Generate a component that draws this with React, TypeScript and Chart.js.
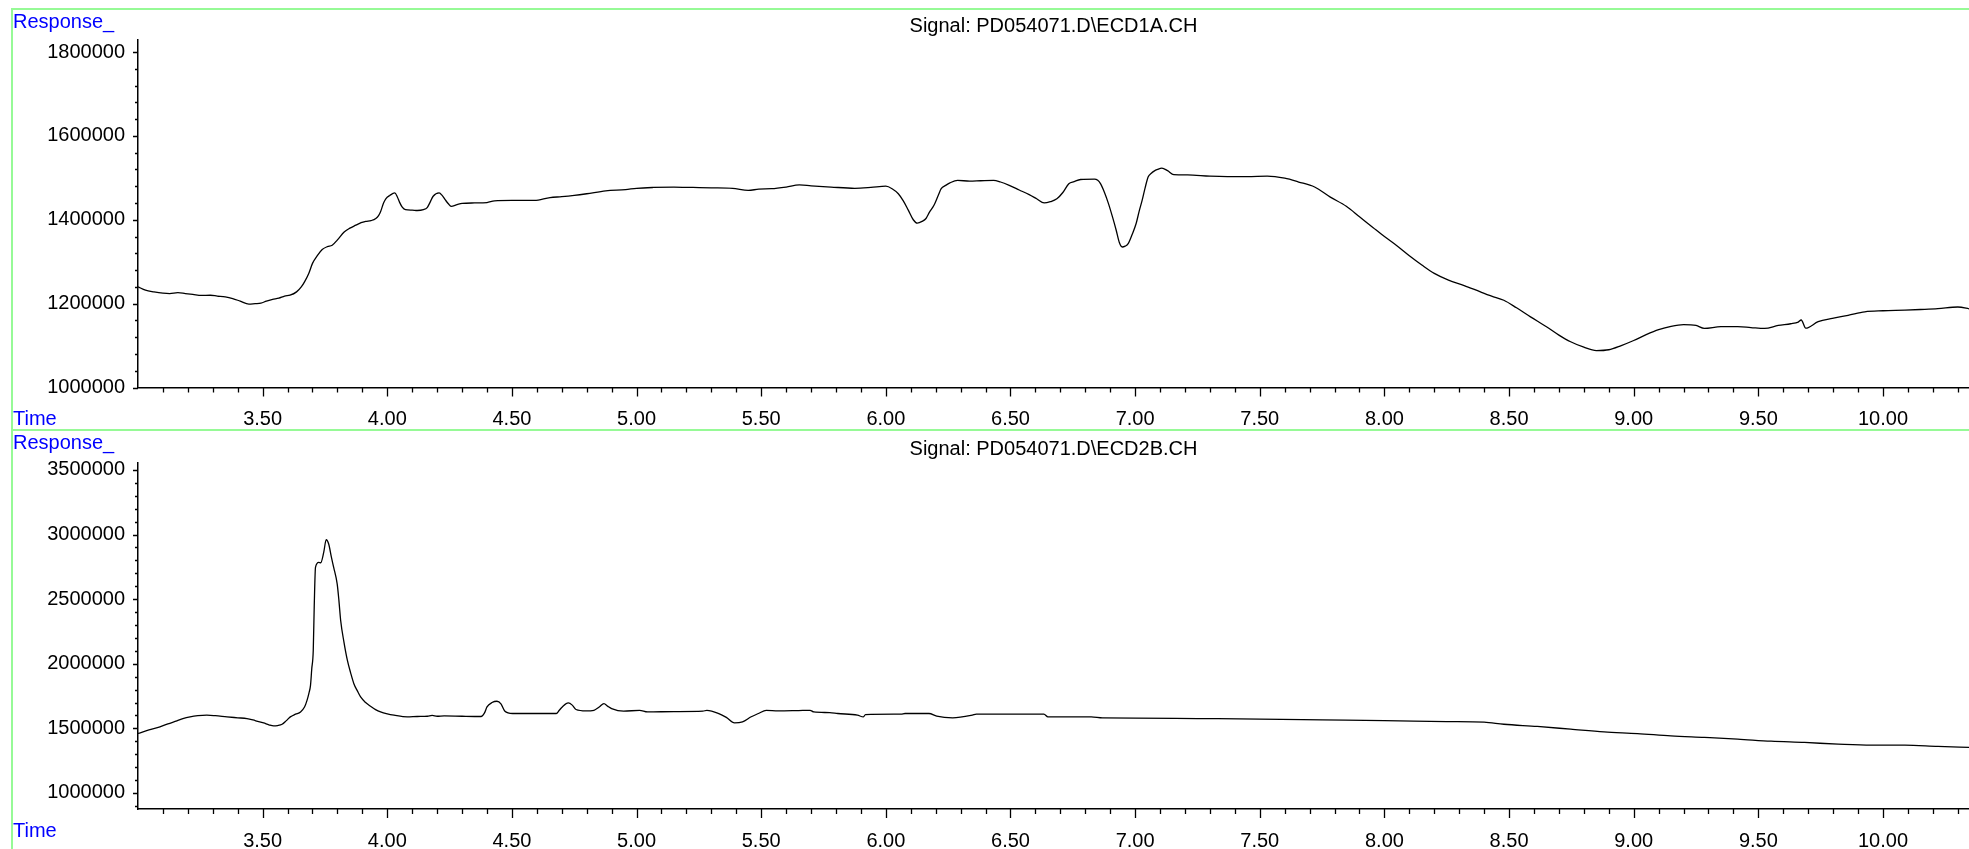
import React, { useEffect, useRef } from "react";
import { Chart, registerables } from "chart.js";

Chart.register(...registerables);

const FONT = "'Liberation Sans', Arial, Helvetica, sans-serif";
Chart.defaults.font.family = FONT;

// ---------- DATA ----------
const topTitle = "Signal: PD054071.D\\ECD1A.CH";
const bottomTitle = "Signal: PD054071.D\\ECD2B.CH";

const topTimes = [
  3.0, 3.03, 3.064, 3.1, 3.127, 3.16, 3.19, 3.22, 3.254, 3.29, 3.318, 3.35, 3.38, 3.41, 3.445, 3.47, 3.493,
  3.515, 3.54, 3.565, 3.588, 3.61, 3.636, 3.655, 3.668, 3.685, 3.7, 3.72, 3.739, 3.76, 3.779, 3.8, 3.827,
  3.85, 3.874, 3.895, 3.914, 3.935, 3.954, 3.965, 3.973, 3.985, 3.994, 4.01, 4.03, 4.04, 4.049, 4.06, 4.073,
  4.1, 4.12, 4.145, 4.16, 4.172, 4.184, 4.208, 4.22, 4.232, 4.245, 4.256, 4.28, 4.3, 4.35, 4.4, 4.43, 4.5,
  4.59, 4.653, 4.7, 4.75, 4.8, 4.876, 4.956, 5.0, 5.067, 5.15, 5.226, 5.3, 5.385, 5.448, 5.49, 5.541, 5.6,
  5.653, 5.7, 5.78, 5.875, 5.94, 6.0, 6.025, 6.05, 6.07, 6.09, 6.11, 6.126, 6.145, 6.161, 6.175, 6.193,
  6.21, 6.222, 6.24, 6.257, 6.288, 6.336, 6.38, 6.432, 6.46, 6.495, 6.535, 6.575, 6.605, 6.635, 6.66,
  6.686, 6.71, 6.734, 6.755, 6.781, 6.837, 6.85, 6.861, 6.877, 6.893, 6.91, 6.924, 6.937, 6.948, 6.96,
  6.972, 6.988, 7.004, 7.016, 7.028, 7.04, 7.052, 7.065, 7.076, 7.09, 7.107, 7.13, 7.155, 7.21, 7.3, 7.37,
  7.45, 7.53, 7.6, 7.656, 7.72, 7.783, 7.847, 7.9, 7.955, 8.0, 8.05, 8.1, 8.15, 8.2, 8.257, 8.32, 8.385,
  8.43, 8.479, 8.53, 8.586, 8.65, 8.7, 8.747, 8.8, 8.85, 8.9, 8.95, 9.0, 9.05, 9.1, 9.15, 9.2, 9.25, 9.283,
  9.35, 9.417, 9.47, 9.525, 9.58, 9.63, 9.66, 9.672, 9.69, 9.74, 9.797, 9.86, 9.927, 10.0, 10.088, 10.15,
  10.22, 10.3, 10.35,
];
const topValues = [
  1240000, 1232000, 1228000, 1225000, 1224000, 1226000, 1224000, 1222000, 1219500, 1220000, 1218000,
  1216000, 1212000, 1206000, 1199000, 1200000, 1201000, 1206000, 1210000, 1213000, 1218000, 1220000,
  1228000, 1240000, 1252000, 1272000, 1296000, 1315000, 1329000, 1336000, 1339000, 1352000, 1371000,
  1380000, 1387000, 1393000, 1396000, 1398000, 1403000, 1410000, 1419000, 1440000, 1450000, 1458000,
  1464000, 1455000, 1442000, 1430000, 1424000, 1423000, 1422000, 1424000, 1429000, 1442000, 1456000,
  1464000, 1458000, 1448000, 1438000, 1432000, 1436000, 1439000, 1440000, 1441000, 1445000, 1446000,
  1446000, 1453000, 1455000, 1458000, 1462000, 1469000, 1472000, 1475000, 1477000, 1478000, 1477000,
  1476000, 1475000, 1470000, 1473000, 1474000, 1478000, 1483000, 1481000, 1478000, 1475000, 1477000,
  1480000, 1474000, 1462000, 1445000, 1423000, 1400000, 1392000, 1396000, 1403000, 1418000, 1434500,
  1458000, 1474000, 1482000, 1488000, 1494000, 1492000, 1493000, 1494000, 1490000, 1482000, 1471000,
  1460000, 1450000, 1440000, 1443000, 1450000, 1465000, 1486000, 1491000, 1496000, 1497000, 1494000,
  1486000, 1465000, 1438500, 1405000, 1375000, 1345000, 1335000, 1337000, 1343000, 1365000, 1391000,
  1420000, 1446000, 1476000, 1502000, 1511000, 1516000, 1520000, 1523000, 1517000, 1507500, 1507000,
  1504000, 1503000, 1503000, 1504000, 1499000, 1490000, 1478000, 1454000, 1432000, 1407000, 1381000,
  1360000, 1338000, 1314000, 1292000, 1272000, 1256000, 1243000, 1228000, 1218000, 1208000, 1190000,
  1168500, 1145000, 1125000, 1109000, 1096000, 1088000, 1090000, 1100000, 1112000, 1126000, 1138000,
  1146000, 1150000, 1148000, 1141000, 1145000, 1145000, 1143000, 1141000, 1148000, 1152000, 1156000,
  1161000, 1141500, 1157000, 1165000, 1172000, 1180500, 1183000, 1184500, 1186000, 1188000, 1192000,
  1187000,
];

const bottomTimes = [
  3.0, 3.044, 3.088, 3.12, 3.156, 3.18, 3.209, 3.24, 3.276, 3.31, 3.357, 3.4, 3.437, 3.47, 3.504, 3.525,
  3.544, 3.56, 3.578, 3.595, 3.611, 3.632, 3.652, 3.668, 3.678, 3.686, 3.692, 3.697, 3.703, 3.707, 3.712,
  3.725, 3.733, 3.745, 3.755, 3.765, 3.776, 3.785, 3.799, 3.806, 3.813, 3.826, 3.84, 3.853, 3.866, 3.88,
  3.893, 3.913, 3.933, 3.953, 3.973, 4.0, 4.027, 4.08, 4.12, 4.161, 4.18, 4.2, 4.228, 4.3, 4.376, 4.39,
  4.4, 4.42, 4.44, 4.456, 4.471, 4.503, 4.6, 4.678, 4.69, 4.702, 4.726, 4.742, 4.757, 4.797, 4.829, 4.85,
  4.869, 4.885, 4.9, 4.948, 5.012, 5.044, 5.15, 5.266, 5.282, 5.33, 5.36, 5.393, 5.425, 5.46, 5.489, 5.52,
  5.568, 5.65, 5.696, 5.711, 5.775, 5.807, 5.886, 5.91, 5.918, 6.061, 6.077, 6.173, 6.204, 6.268, 6.347,
  6.363, 6.5, 6.634, 6.65, 6.824, 6.869, 7.0, 7.25, 7.5, 7.75, 8.0, 8.25, 8.4, 8.479, 8.613, 8.747, 8.881,
  9.015, 9.149, 9.283, 9.417, 9.551, 9.685, 9.82, 9.953, 10.088, 10.22, 10.35,
];
const bottomValues = [
  1460600, 1488000, 1511600, 1535000, 1558000, 1575000, 1589000, 1598000, 1602000, 1598000, 1589000,
  1582000, 1576000, 1560000, 1542000, 1528000, 1519000, 1522000, 1532000, 1560000, 1589000, 1610000,
  1627000, 1665000, 1717000, 1775000, 1833000, 1960000, 2103000, 2450000, 2746000, 2785000, 2782000,
  2862000, 2960000, 2927000, 2823000, 2746000, 2618000, 2489000, 2335000, 2170000, 2026000, 1930000,
  1846000, 1790000, 1743000, 1700000, 1671000, 1645000, 1627000, 1612000, 1602000, 1589000, 1592000,
  1594000, 1600000, 1594000, 1597000, 1594000, 1592000, 1620000, 1666000, 1700000, 1710000, 1690000,
  1635000, 1615000, 1615000, 1615000, 1640000, 1666000, 1697000, 1680000, 1646000, 1635000, 1640000,
  1665000, 1692000, 1670000, 1653000, 1633000, 1640000, 1627000, 1630000, 1633000, 1640000, 1615000,
  1585000, 1543000, 1551000, 1590000, 1615000, 1640000, 1635000, 1638000, 1640000, 1627000, 1622000,
  1615000, 1602000, 1589000, 1607000, 1610000, 1615000, 1615000, 1594000, 1581000, 1602000, 1610000,
  1610000, 1610000, 1589000, 1589000, 1581000, 1580000, 1576000, 1572000, 1566000, 1560000, 1553000,
  1548000, 1532000, 1515000, 1494000, 1473000, 1460000, 1442000, 1430000, 1417000, 1401000, 1391000,
  1378000, 1370000, 1370000, 1360000, 1353000,
];

const xMajorTicks = [3.5, 4.0, 4.5, 5.0, 5.5, 6.0, 6.5, 7.0, 7.5, 8.0, 8.5, 9.0, 9.5, 10.0];
const topYTicks = [1000000, 1200000, 1400000, 1600000, 1800000];
const bottomYTicks = [1000000, 1500000, 2000000, 2500000, 3000000, 3500000];
const xMinorStep = 0.1;
const topYMinorStep = 40000;
const bottomYMinorStep = 100000;

// ---------- LAYOUT ----------
const W = 1969;
const GREEN = "rgb(150,250,150)";

type Panel = {
  times: number[];
  values: number[];
  title: string;
  yMin: number;
  yMax: number;
  yTicks: number[];
  yMinorStep: number;
  height: number;
  padTop: number;
  xAxisHeight: number;
  responseY: number;
  timeY: number;
};

const decorPlugin = {
  id: "decor",
  afterDraw(chart: any, _args: any, opts: any) {
    const ctx = chart.ctx as CanvasRenderingContext2D;
    const xs = chart.scales.x;
    const ys = chart.scales.y;
    ctx.save();
    ctx.strokeStyle = "#000";
    ctx.lineWidth = 1.3;
    ctx.beginPath();
    // x ticks
    const xMin = xs.min, xMax = xs.max;
    const startX = Math.ceil(xMin / xMinorStep - 1e-6) * xMinorStep;
    for (let v = startX; v <= xMax + 1e-9; v += xMinorStep) {
      const r = Math.round(v * 10) / 10;
      const isMajor = xMajorTicks.some((m) => Math.abs(m - r) < 1e-6);
      if (r <= xMin + 1e-6) continue;
      const px = Math.round(xs.getPixelForValue(r)) + 0.5;
      ctx.moveTo(px, xs.top);
      ctx.lineTo(px, xs.top + (isMajor ? 9 : 5));
    }
    // y ticks
    const step = opts.yMinorStep;
    const startY = Math.ceil(ys.min / step) * step;
    for (let v = startY; v <= ys.max + 1e-6; v += step) {
      const isMajor = opts.yTicks.includes(v);
      if (v <= ys.min && !isMajor) continue;
      const py = Math.round(ys.getPixelForValue(v)) + 0.5;
      ctx.moveTo(ys.right, py);
      ctx.lineTo(ys.right - (isMajor ? 5 : 3), py);
    }
    ctx.stroke();
    ctx.fillStyle = "#0000ff";
    ctx.font = `20px ${FONT}`;
    ctx.textAlign = "left";
    ctx.textBaseline = "alphabetic";
    ctx.fillText("Response_", 13, opts.responseY);
    ctx.fillText("Time", 13, opts.timeY);
    ctx.restore();
  },
};

function PanelChart({ p }: { p: Panel }) {
  const ref = useRef<HTMLCanvasElement | null>(null);
  useEffect(() => {
    if (!ref.current) return;
    const data = p.times.map((t, i) => ({ x: t, y: p.values[i] }));
    const chart = new Chart(ref.current, {
      type: "line",
      data: {
        datasets: [
          {
            data,
            borderColor: "#000",
            borderWidth: 1.3,
            pointRadius: 0,
            fill: false,
            cubicInterpolationMode: "monotone",
          },
        ],
      },
      options: {
        animation: false,
        responsive: false,
        maintainAspectRatio: false,
        events: [],
        layout: { padding: { top: p.padTop, left: 0, right: 0, bottom: 0 } },
        plugins: {
          legend: { display: false },
          tooltip: { enabled: false },
          title: {
            display: true,
            text: p.title,
            fullSize: false,
            color: "#000",
            font: { size: 20, weight: "normal", family: FONT, lineHeight: 1.2 },
            padding: { top: 0, bottom: 2 },
          },
          decor: {
            yTicks: p.yTicks,
            yMinorStep: p.yMinorStep,
            responseY: p.responseY,
            timeY: p.timeY,
          },
        } as any,
        scales: {
          x: {
            type: "linear",
            position: "bottom",
            min: 3.0,
            max: 10.345,
            grid: { display: false },
            border: { display: true, color: "#000", width: 1.5 },
            ticks: {
              color: "#000",
              padding: 12,
              maxRotation: 0,
              autoSkip: false,
              font: { size: 20, family: FONT },
              callback: (v: any) => Number(v).toFixed(2),
            },
            afterBuildTicks: (s: any) => {
              s.ticks = xMajorTicks.map((v) => ({ value: v }));
            },
            afterFit: (s: any) => {
              s.height = p.xAxisHeight;
            },
          },
          y: {
            type: "linear",
            min: p.yMin,
            max: p.yMax,
            grid: { display: false },
            border: { display: true, color: "#000", width: 1.5 },
            ticks: {
              color: "#000",
              padding: 5,
              font: { size: 20, family: FONT },
              callback: (v: any) => String(v),
            },
            afterBuildTicks: (s: any) => {
              s.ticks = p.yTicks.map((v) => ({ value: v }));
            },
            afterFit: (s: any) => {
              s.width = 138;
            },
          },
        },
      },
      plugins: [decorPlugin as any],
    });
    return () => chart.destroy();
  }, [p]);
  return <canvas ref={ref} width={W} height={p.height} style={{ width: W, height: p.height, display: "block" }} />;
}

const topPanel: Panel = {
  times: topTimes,
  values: topValues,
  title: topTitle,
  yMin: 1000000,
  yMax: 1828600,
  yTicks: topYTicks,
  yMinorStep: topYMinorStep,
  height: 430,
  padTop: 14,
  xAxisHeight: 42.5,
  responseY: 28,
  timeY: 425,
};

const bottomPanel: Panel = {
  times: bottomTimes,
  values: bottomValues,
  title: bottomTitle,
  yMin: 876000,
  yMax: 3554000,
  yTicks: bottomYTicks,
  yMinorStep: bottomYMinorStep,
  height: 418,
  padTop: 6,
  xAxisHeight: 40,
  responseY: 18,
  timeY: 406,
};

export default function App() {
  return (
    <div
      style={{
        position: "fixed",
        left: 0,
        top: 0,
        width: W,
        height: 849,
        overflow: "hidden",
        background: "#fff",
      }}
    >
      <div style={{ position: "absolute", left: 0, top: 0 }}>
        <PanelChart p={topPanel} />
      </div>
      <div style={{ position: "absolute", left: 0, top: 431 }}>
        <PanelChart p={bottomPanel} />
      </div>
      <div style={{ position: "absolute", left: 11, top: 8, width: W - 11, height: 2, background: GREEN }} />
      <div style={{ position: "absolute", left: 11, top: 8, width: 2, height: 849 - 8, background: GREEN }} />
      <div style={{ position: "absolute", left: 11, top: 429, width: W - 11, height: 2, background: GREEN }} />
    </div>
  );
}
